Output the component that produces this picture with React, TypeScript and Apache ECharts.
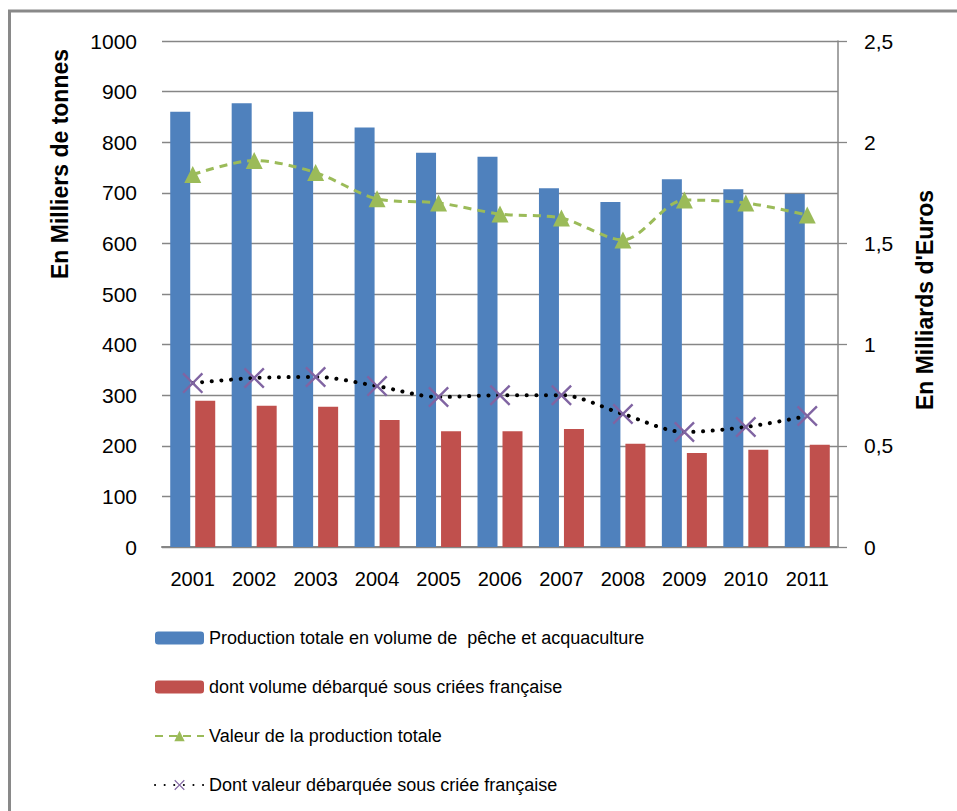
import React, { useEffect, useRef } from "react";
import * as echarts from "echarts";

const years = ["2001", "2002", "2003", "2004", "2005", "2006", "2007", "2008", "2009", "2010", "2011"];
const volumeTotal = [860, 877, 860, 829, 779, 771, 709, 682, 727, 707, 698];
const volumeCriees = [289, 279, 277, 251, 229, 229, 233, 204, 186, 192, 202];
const valeurTotale = [1.84, 1.91, 1.85, 1.72, 1.70, 1.645, 1.625, 1.517, 1.714, 1.70, 1.64];
const valeurCriees = [0.81, 0.835, 0.84, 0.795, 0.741, 0.75, 0.75, 0.657, 0.568, 0.593, 0.647];

const seriesNames = [
  "Production totale en volume de  pêche et acquaculture",
  "dont volume débarqué sous criées française",
  "Valeur de la production totale",
  "Dont valeur débarquée sous criée française",
];
const leftTitle = "En Milliers de tonnes";
const rightTitle = "En Milliards d'Euros";

const FONT = "'Liberation Sans', Arial, sans-serif";
const X_SYMBOL =
  "path://M0,0.8 L0.8,0 L5,4.2 L9.2,0 L10,0.8 L5.8,5 L10,9.2 L9.2,10 L5,5.8 L0.8,10 L0,9.2 L4.2,5 Z";

export default function App() {
  const ref = useRef<HTMLDivElement>(null);
  useEffect(() => {
    if (!ref.current) return;
    const chart = echarts.init(ref.current, null, { renderer: "svg" });
    chart.setOption({
      animation: false,
      backgroundColor: "#ffffff",
      textStyle: { fontFamily: FONT },
      grid: { left: 162, right: 119, top: 41, bottom: 264, containLabel: false },
      legend: {
        orient: "vertical",
        left: 149,
        top: 624,
        itemWidth: 49,
        itemHeight: 13,
        itemGap: 31,
        textStyle: { fontSize: 18, color: "#000", fontFamily: FONT },
        data: seriesNames,
      },
      xAxis: {
        type: "category",
        data: years,
        axisLine: { show: true, lineStyle: { color: "#868686", width: 2 } },
        axisTick: { show: false },
        axisLabel: { color: "#000", fontSize: 20, margin: 22, fontFamily: FONT },
      },
      yAxis: [
        {
          type: "value",
          min: 0,
          max: 1000,
          interval: 100,
          axisLine: { show: false },
          axisTick: { show: false },
          axisLabel: {
            color: "#000",
            fontSize: 21,
            margin: 25,
            fontFamily: FONT,
            formatter: (v: number) => String(v),
          },
          splitLine: { show: true, lineStyle: { color: "#868686", width: 1.3 } },
        },
        {
          type: "value",
          min: 0,
          max: 2.5,
          interval: 0.5,
          position: "right",
          axisLine: { show: true, lineStyle: { color: "#868686", width: 1.5 } },
          axisTick: { show: true, length: 9, lineStyle: { color: "#868686", width: 1.3 } },
          axisLabel: {
            color: "#000",
            fontSize: 21,
            margin: 26,
            fontFamily: FONT,
            formatter: (v: number) => String(v).replace(".", ","),
          },
          splitLine: { show: false },
        },
      ],
      series: [
        {
          name: seriesNames[0],
          type: "bar",
          data: volumeTotal,
          barWidth: 20,
          barGap: "25%",
          itemStyle: { color: "#4F81BD" },
        },
        {
          name: seriesNames[1],
          type: "bar",
          data: volumeCriees,
          barWidth: 20,
          barGap: "25%",
          itemStyle: { color: "#C0504D" },
        },
        {
          name: seriesNames[2],
          type: "line",
          yAxisIndex: 1,
          data: valeurTotale,
          smooth: 0.3,
          symbol: "triangle",
          symbolSize: 17,
          lineStyle: { color: "#9BBB59", width: 3, type: [8, 6] },
          itemStyle: { color: "#9BBB59" },
        },
        {
          name: seriesNames[3],
          type: "line",
          yAxisIndex: 1,
          data: valeurCriees,
          smooth: 0.3,
          symbol: X_SYMBOL,
          symbolSize: 21,
          lineStyle: { color: "#000000", width: 4, type: [0.1, 9.5], cap: "round" },
          itemStyle: { color: "#8064A2" },
        },
      ],
      graphic: [
        {
          type: "rect",
          shape: { x: 9.5, y: 11, width: 960, height: 810 },
          style: { fill: "none", stroke: "#898989", lineWidth: 3 },
          silent: true,
        },
        {
          type: "text",
          x: 60,
          y: 164,
          rotation: Math.PI / 2,
          style: {
            text: leftTitle,
            font: `bold 23px ${FONT}`,
            fill: "#000",
            align: "center",
            verticalAlign: "middle",
          },
        },
        {
          type: "text",
          x: 925,
          y: 300,
          rotation: Math.PI / 2,
          style: {
            text: rightTitle,
            font: `bold 23px ${FONT}`,
            fill: "#000",
            align: "center",
            verticalAlign: "middle",
          },
        },
      ],
    });
    return () => chart.dispose();
  }, []);
  return (
    <div
      ref={ref}
      style={{ position: "fixed", left: 0, top: 0, width: 957, height: 811 }}
    />
  );
}
